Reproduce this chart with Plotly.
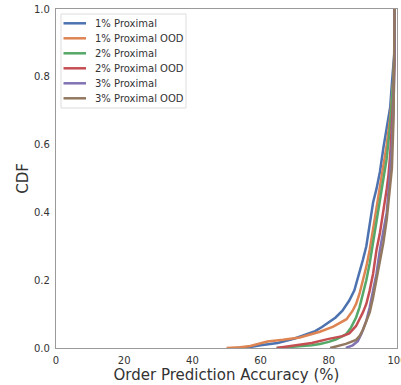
import plotly.graph_objects as go

names = ["1% Proximal", "1% Proximal OOD", "2% Proximal", "2% Proximal OOD", "3% Proximal", "3% Proximal OOD"]
colors = ["#4C72B0", "#DD8452", "#55A868", "#C44E52", "#8172B3", "#937860"]

x_p1 = [53, 57, 60, 65, 70, 73, 76, 78, 80, 82, 84, 86, 87.5, 89, 90, 91, 92, 93, 94, 95, 96, 97, 98, 98.5, 99, 99.3, 99.3]
y_p1 = [0, 0.003, 0.008, 0.015, 0.028, 0.04, 0.05, 0.062, 0.075, 0.09, 0.11, 0.14, 0.17, 0.22, 0.26, 0.30, 0.37, 0.43, 0.47, 0.52, 0.59, 0.65, 0.71, 0.78, 0.86, 0.88, 1.0]

x_p1o = [50, 54, 57, 60, 62, 66.6, 71.5, 77.4, 81.3, 85.2, 87, 88, 89, 90, 91, 92, 93, 94, 95, 96, 97, 98, 99, 99.3, 99.3]
y_p1o = [0, 0.002, 0.006, 0.013, 0.019, 0.024, 0.031, 0.048, 0.063, 0.085, 0.11, 0.13, 0.16, 0.20, 0.24, 0.29, 0.35, 0.41, 0.47, 0.53, 0.60, 0.68, 0.80, 0.88, 1.0]

x_p2 = [64.7, 70, 75, 77.4, 80, 82, 85, 86.5, 88, 89, 90, 91, 92, 93, 94, 95, 96, 97, 98, 98.5, 99, 99.3, 99.3]
y_p2 = [0, 0.003, 0.008, 0.012, 0.018, 0.025, 0.04, 0.06, 0.09, 0.12, 0.16, 0.20, 0.25, 0.31, 0.37, 0.43, 0.49, 0.56, 0.66, 0.72, 0.80, 0.88, 1.0]

x_p2o = [64.7, 70, 75, 80, 84, 86, 88, 89, 90, 91, 92, 93, 94, 95, 96, 97, 97.5, 98, 99, 99.3, 99.3]
y_p2o = [0, 0.008, 0.015, 0.027, 0.035, 0.043, 0.065, 0.085, 0.105, 0.13, 0.17, 0.22, 0.29, 0.34, 0.40, 0.47, 0.51, 0.57, 0.75, 0.88, 1.0]

x_p3 = [85, 87, 88.5, 89.6, 91, 92, 93, 94, 95, 96, 97, 98, 98.5, 99, 99.3, 99.3]
y_p3 = [0, 0.008, 0.02, 0.043, 0.08, 0.12, 0.17, 0.22, 0.29, 0.34, 0.40, 0.52, 0.60, 0.72, 0.88, 1.0]

x_p3o = [80.4, 82.3, 85, 88, 89, 90, 91, 92, 93, 94, 95, 96, 97, 98, 98.5, 99, 99.3, 99.3]
y_p3o = [0, 0.005, 0.012, 0.024, 0.035, 0.053, 0.08, 0.105, 0.15, 0.20, 0.25, 0.31, 0.38, 0.47, 0.53, 0.68, 0.88, 1.0]

xs = [x_p1, x_p1o, x_p2, x_p2o, x_p3, x_p3o]
ys = [y_p1, y_p1o, y_p2, y_p2o, y_p3, y_p3o]

x_ticks = [0, 20, 40, 60, 80, 100]
y_ticks = [0.0, 0.2, 0.4, 0.6, 0.8, 1.0]

fig = go.Figure()
for n, c, x, y in zip(names, colors, xs, ys):
    fig.add_trace(go.Scatter(x=x, y=y, mode="lines", name=n,
                             line=dict(color=c, width=2.5), showlegend=False))

font = "DejaVu Sans, sans-serif"
axis_common = dict(showgrid=False, zeroline=False, showline=True, linecolor="#9a9a9a",
                   linewidth=1.2, mirror=True, ticks="outside", ticklen=3,
                   tickcolor="rgba(0,0,0,0)", automargin=False, ticklabeloverflow="allow",
                   tickfont=dict(size=10, color="#333333", family=font))

# Custom legend (matplotlib-like compact spacing), in paper coordinates
plot_w, plot_h = 341.0, 339.0
shapes = [dict(type="rect", xref="paper", yref="paper",
               x0=5 / plot_w, x1=130 / plot_w, y0=1 - 99 / plot_h, y1=1 - 5 / plot_h,
               line=dict(color="#dddddd", width=1), fillcolor="rgba(255,255,255,0.85)", layer="above")]
annotations = []
for i, (n, c) in enumerate(zip(names, colors)):
    yy = 1 - (14.3 + 15 * i) / plot_h
    shapes.append(dict(type="line", xref="paper", yref="paper",
                       x0=7.5 / plot_w, x1=30 / plot_w, y0=yy, y1=yy,
                       line=dict(color=c, width=2.5), layer="above"))
    annotations.append(dict(text=n, xref="paper", yref="paper", x=37 / plot_w, y=yy,
                            xanchor="left", yanchor="middle", showarrow=False,
                            font=dict(size=10, color="#333333", family=font)))

fig.update_layout(
    width=401, height=385,
    margin=dict(l=56, r=4, t=9, b=37),
    paper_bgcolor="white", plot_bgcolor="white",
    font=dict(family=font, color="#333333"),
    showlegend=False,
    shapes=shapes, annotations=annotations,
    xaxis=dict(range=[0, 100], tickvals=x_ticks, ticktext=[str(v) for v in x_ticks],
               title=dict(text="Order Prediction Accuracy (%)", font=dict(size=15, family=font, color="#333333"), standoff=0),
               **axis_common),
    yaxis=dict(range=[0, 1], tickvals=y_ticks, ticktext=[f"{v:.1f}" for v in y_ticks],
               title=dict(text="CDF", font=dict(size=15, family=font, color="#333333"), standoff=1),
               **axis_common),
)

fig.write_html("out.html", config={"displayModeBar": False},
               post_script="document.body.style.margin='0';document.body.style.padding='0';")
